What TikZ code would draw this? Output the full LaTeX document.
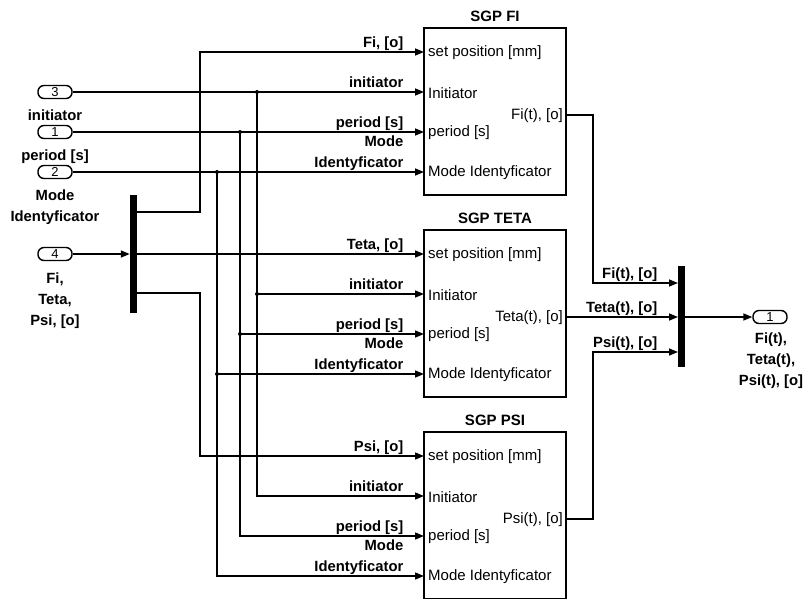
\documentclass[tikz,border=0pt]{standalone}
\usepackage{fontspec}
\setmainfont{Liberation Sans}
\usetikzlibrary{arrows.meta,calc}
\begin{document}
\begin{tikzpicture}[x=1pt,y=-1pt,
 wire/.style={line width=1.5pt},
 arr/.style={wire,-{Triangle[length=9pt,width=7pt]}},
 blk/.style={draw,line width=1.4pt,minimum width=142pt,minimum height=167pt,inner sep=0},
 ttl/.style={font=\bfseries\fontsize{15}{18}\selectfont,anchor=south,inner sep=0},
 plbl/.style={font=\fontsize{15}{16}\selectfont,anchor=west,inner sep=0},
 olbl/.style={font=\fontsize{15}{16}\selectfont,anchor=east,inner sep=0},
 slbl/.style={font=\bfseries\fontsize{14.8}{21}\selectfont,anchor=south east,inner sep=0.5pt,text depth=3.5pt},
 iolbl/.style={font=\bfseries\fontsize{14.8}{21}\selectfont,anchor=north,inner sep=0,align=center},
 port/.style={draw,line width=1.4pt,rounded corners=6pt,minimum width=34pt,minimum height=13pt,inner sep=0,font=\fontsize{13}{13}\selectfont},
 bar/.style={fill=black,inner sep=0,minimum width=7pt},
 dot/.style={fill=black}]
\useasboundingbox (0,0) rectangle (803,598);

% input ports
\node[port] (in3) at (55,92) {3};
\node[port] (in1) at (55,132) {1};
\node[port] (in2) at (55,172) {2};
\node[port] (in4) at (55,254) {4};
\node[iolbl] (l3) at (55,110) {initiator};
\node[iolbl] (l1) at (55,150) {period [s]};
\node[iolbl] (l2) at (55,190) {Mode\\Identyficator};
\node[iolbl] (l4) at (55,273) {Fi,\\Teta,\\Psi, [o]};

% demux / mux bars
\node[bar,minimum height=118pt] (dm) at (133.5,254) {};
\node[bar,minimum height=101pt] (mx) at (681.5,316.5) {};

% blocks
\node[blk] (fi) at (495,111.5) {};
\node[blk] (te) at (495,313.5) {};
\node[blk] (ps) at (495,515.5) {};
\node[ttl] (tfi) at ([yshift=5pt]fi.north) {SGP FI};
\node[ttl] (tte) at ([yshift=5pt]te.north) {SGP TETA};
\node[ttl] (tps) at ([yshift=5pt]ps.north) {SGP PSI};

% block ports
\foreach \b/\t in {fi/28,te/230,ps/432}{
  \coordinate (\b1) at (424,\t+24);
  \coordinate (\b2) at (424,\t+64);
  \coordinate (\b3) at (424,\t+104);
  \coordinate (\b4) at (424,\t+144);
  \coordinate (\b o) at (566,\t+87);
  \node[plbl] at ([xshift=4pt,yshift=-1pt]\b1) {set position [mm]};
  \node[plbl] at ([xshift=4pt,yshift=-1pt]\b2) {Initiator};
  \node[plbl] at ([xshift=4pt,yshift=-1pt]\b3) {period [s]};
  \node[plbl] at ([xshift=4pt,yshift=-1pt]\b4) {Mode Identyficator};
}
\node[olbl] at ([xshift=-3pt,yshift=-1pt]fio) {Fi(t), [o]};
\node[olbl] at ([xshift=-3pt,yshift=-1pt]teo) {Teta(t), [o]};
\node[olbl] at ([xshift=-3pt,yshift=-1pt]pso) {Psi(t), [o]};

% helper coordinates
\coordinate (d1) at (137,212);
\coordinate (d2) at (137,254);
\coordinate (d3) at (137,293);
\coordinate (k1) at (200,52);
\coordinate (k3) at (200,456);
\coordinate (j1) at (257,92);
\coordinate (j1b) at (257,294);
\coordinate (j2) at (240,132);
\coordinate (j2b) at (240,334);
\coordinate (j3) at (217,172);
\coordinate (j3b) at (217,374);
\coordinate (v1) at (593,283);
\coordinate (v3) at (593,352);
\coordinate (mx1) at (678,283);
\coordinate (mx2) at (678,317);
\coordinate (mx3) at (678,352);

% input wiring
\draw[arr] (in4.east) -- (in4.east -| dm.west);
\draw[arr] (d1) -| (k1) -- (fi1);
\draw[arr] (d2) -- (te1);
\draw[arr] (d3) -| (k3) -- (ps1);

\draw[arr] (in3.east) -- (fi2);
\draw[arr] (j1) |- (ps2);
\draw[arr] (j1b) -- (te2);
\draw[arr] (in1.east) -- (fi3);
\draw[arr] (j2) |- (ps3);
\draw[arr] (j2b) -- (te3);
\draw[arr] (in2.east) -- (fi4);
\draw[arr] (j3) |- (ps4);
\draw[arr] (j3b) -- (te4);
\foreach \j in {j1,j1b,j2,j2b,j3,j3b} \fill[dot] (\j) circle (2pt);

% wire labels
\node[slbl] at ([xshift=-20pt]fi1) {Fi, [o]};
\node[slbl] at ([xshift=-20pt]fi2) {initiator};
\node[slbl] at ([xshift=-20pt]fi3) {period [s]};
\node[slbl] at ([xshift=-20pt,yshift=21pt]fi4) {Mode};
\node[slbl] at ([xshift=-20pt]fi4) {Identyficator};
\node[slbl] at ([xshift=-20pt]te1) {Teta, [o]};
\node[slbl] at ([xshift=-20pt]te2) {initiator};
\node[slbl] at ([xshift=-20pt]te3) {period [s]};
\node[slbl] at ([xshift=-20pt,yshift=21pt]te4) {Mode};
\node[slbl] at ([xshift=-20pt]te4) {Identyficator};
\node[slbl] at ([xshift=-20pt]ps1) {Psi, [o]};
\node[slbl] at ([xshift=-20pt]ps2) {initiator};
\node[slbl] at ([xshift=-20pt]ps3) {period [s]};
\node[slbl] at ([xshift=-20pt,yshift=21pt]ps4) {Mode};
\node[slbl] at ([xshift=-20pt]ps4) {Identyficator};

% output wiring
\draw[arr] (fio) -| (v1) -- (mx1);
\draw[arr] (teo) -- (mx2);
\draw[arr] (pso) -| (v3) -- (mx3);
\node[slbl] at ([xshift=-20pt]mx1) {Fi(t), [o]};
\node[slbl] at ([xshift=-20pt]mx2) {Teta(t), [o]};
\node[slbl] at ([xshift=-20pt]mx3) {Psi(t), [o]};

\node[port] (out1) at (770,317) {1};
\draw[arr] (mx.east |- out1) -- (out1.west);
\node[iolbl] (lo) at (771,333) {Fi(t),\\Teta(t),\\Psi(t), [o]};
\end{tikzpicture}
\end{document}
